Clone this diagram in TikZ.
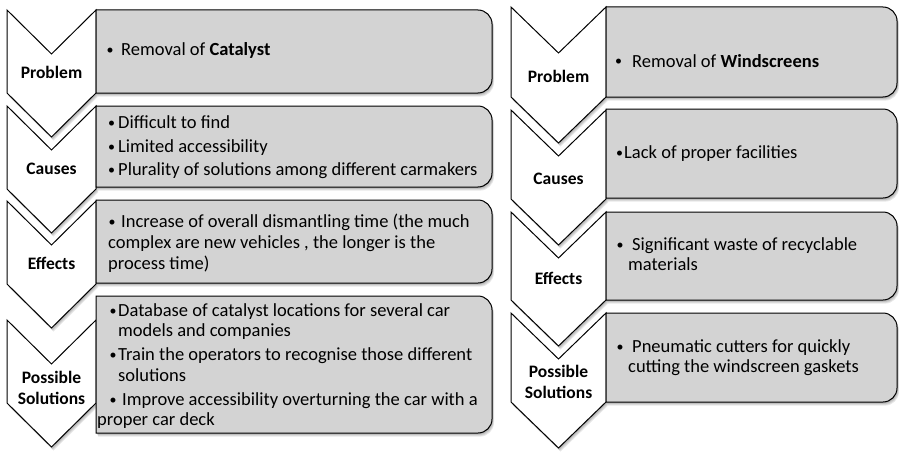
\documentclass[tikz,border=0pt]{standalone}
\usepackage{fontspec}
\setmainfont{Carlito}
\definecolor{boxgray}{HTML}{D3D3D3}
\newcommand{\chevp}[6]{(#1,#4) -- (#2,{#4+#6}) -- (#3,#4) -- (#3,{#4+#5}) -- (#2,{#4+#5+#6}) -- (#1,{#4+#5}) -- cycle}
\newcommand{\rboxp}[4]{(#1,#2) -- ({#3-14},#2) .. controls ({#3-6.3},#2) and (#3,{#2+6.3}) .. (#3,{#2+14}) -- (#3,{#4-14}) .. controls (#3,{#4-6.3}) and ({#3-6.3},#4) .. ({#3-14},#4) -- (#1,#4) -- cycle}
\begin{document}
\begin{tikzpicture}[x=1pt,y=-1pt,
  every node/.style={inner sep=0pt,font=\fontsize{18.5}{21}\selectfont},
  chev/.style={draw=black,line width=1pt,fill=white,line join=miter},
  rbox/.style={draw=black,line width=1pt,fill=boxgray},
  shad/.style={fill=black,opacity=0.09},
  lab/.style={font=\fontsize{17.5}{21}\selectfont\bfseries,align=center},
  txt/.style={anchor=base west},
  bul/.style={anchor=base,font=\fontsize{14}{14}\selectfont}]
\useasboundingbox (0,0) rectangle (899,452);
% shadows
\foreach \k in {1,2,3,4}{
  \begin{scope}[xshift=\k*0.5pt,yshift=-\k*0.9pt]
  \fill[shad] \chevp{7}{51.5}{96}{10}{83}{44};
  \fill[shad] \chevp{7}{51.5}{96}{106}{83}{44};
  \fill[shad] \chevp{7}{51.5}{96}{201}{83}{44};
  \fill[shad] \chevp{7}{51.5}{96}{320}{83}{44};
  \fill[shad] \rboxp{96}{10}{492}{93};
  \fill[shad] \rboxp{96}{106}{492}{187};
  \fill[shad] \rboxp{96}{200}{492}{283};
  \fill[shad] \rboxp{96}{296}{492}{433};
  \fill[shad] \chevp{511}{558.5}{606}{7}{90}{46};
  \fill[shad] \chevp{511}{558.5}{606}{110}{89}{46};
  \fill[shad] \chevp{511}{558.5}{606}{212}{88}{46};
  \fill[shad] \chevp{511}{558.5}{606}{313}{89}{46};
  \fill[shad] \rboxp{606}{7}{897}{97};
  \fill[shad] \rboxp{606}{109}{897}{198};
  \fill[shad] \rboxp{606}{212}{897}{300};
  \fill[shad] \rboxp{606}{313}{897}{402};
  \end{scope}
}
% left column shapes
\draw[chev] \chevp{7}{51.5}{96}{10}{83}{44};
\draw[chev] \chevp{7}{51.5}{96}{106}{83}{44};
\draw[chev] \chevp{7}{51.5}{96}{201}{83}{44};
\draw[chev] \chevp{7}{51.5}{96}{320}{83}{44};
\draw[rbox] \rboxp{96}{10}{492}{93};
\draw[rbox] \rboxp{96}{106}{492}{187};
\draw[rbox] \rboxp{96}{200}{492}{283};
\draw[rbox] \rboxp{96}{296}{492}{433};
% right column shapes
\draw[chev] \chevp{511}{558.5}{606}{7}{90}{46};
\draw[chev] \chevp{511}{558.5}{606}{110}{89}{46};
\draw[chev] \chevp{511}{558.5}{606}{212}{88}{46};
\draw[chev] \chevp{511}{558.5}{606}{313}{89}{46};
\draw[rbox] \rboxp{606}{7}{897}{97};
\draw[rbox] \rboxp{606}{109}{897}{198};
\draw[rbox] \rboxp{606}{212}{897}{300};
\draw[rbox] \rboxp{606}{313}{897}{402};
% left labels
\node[lab,anchor=base] (lprob) at (51.5,78) {Problem};
\node[lab,anchor=base] (lcaus) at (51.5,174) {Causes};
\node[lab,anchor=base] (leff) at (51.5,269) {Effects};
\node[lab,anchor=center] (lsol) at (51.5,388) {Possible\\Solutions};
% right labels
\node[lab,anchor=base] (rprob) at (558.5,82) {Problem};
\node[lab,anchor=base] (rcaus) at (558.5,184) {Causes};
\node[lab,anchor=base] (reff) at (558.5,284) {Effects};
\node[lab,anchor=center] (rsol) at (558.5,382) {Possible\\Solutions};
% left texts
\node[bul] (lb1) at (110,55) {\textbullet};
\node[txt] (lt1) at (121,56) {Removal of \textbf{Catalyst}};
\node[bul] (lb2a) at (111.5,127) {\textbullet};
\node[txt] (lt2a) at (118,128) {Difficult to find};
\node[bul] (lb2b) at (111.5,151) {\textbullet};
\node[txt] (lt2b) at (118,152) {Limited accessibility};
\node[bul] (lb2c) at (111.5,174) {\textbullet};
\node[txt] (lt2c) at (118,175) {Plurality of solutions among different carmakers};
\node[bul] (lb3) at (112,226) {\textbullet};
\node[txt] (lt3a) at (121,227) {Increase of overall dismantling time (the much};
\node[txt] (lt3b) at (108,248) {complex are new vehicles , the longer is the};
\node[txt] (lt3c) at (108,269) {process time)};
\node[bul] (lb4a) at (113,315) {\textbullet};
\node[txt] (lt4a) at (118,316) {Database of catalyst locations for several car};
\node[txt] (lt4b) at (118,336) {models and companies};
\node[bul] (lb4b) at (113,359) {\textbullet};
\node[txt] (lt4c) at (118,360) {Train the operators to recognise those different};
\node[txt] (lt4d) at (118,381) {solutions};
\node[bul] (lb4c) at (113,404) {\textbullet};
\node[txt] (lt4e) at (122,405) {Improve accessibility overturning the car with a};
\node[txt] (lt4f) at (97,425) {proper car deck};
% right texts
\node[bul] (rb1) at (618.5,66) {\textbullet};
\node[txt] (rt1) at (632,67) {Removal of \textbf{Windscreens}};
\node[bul] (rb2) at (619.5,157.5) {\textbullet};
\node[txt] (rt2) at (624,158.5) {Lack of proper facilities};
\node[bul] (rb3) at (620,249.5) {\textbullet};
\node[txt] (rt3a) at (632,250.5) {Significant waste of recyclable};
\node[txt] (rt3b) at (628,270.5) {materials};
\node[bul] (rb4) at (620,351.5) {\textbullet};
\node[txt] (rt4a) at (632,352.5) {Pneumatic cutters for quickly};
\node[txt] (rt4b) at (628,372) {cutting the windscreen gaskets};
\end{tikzpicture}
\end{document}
